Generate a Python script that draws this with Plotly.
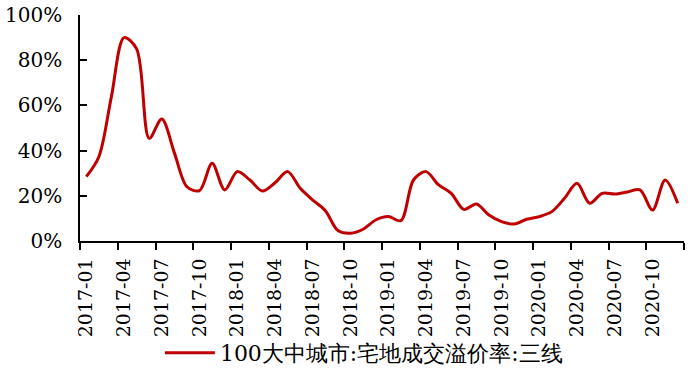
import plotly.graph_objects as go

months = [f"{y}-{m:02d}" for y in range(2017, 2021) for m in range(1, 13)]
premium_rate = [0.285, 0.373, 0.64, 0.90, 0.85, 0.454, 0.54, 0.39, 0.24, 0.223,
                0.344, 0.226, 0.307, 0.27, 0.221, 0.258, 0.307, 0.233, 0.181, 0.134,
                0.046, 0.034, 0.052, 0.093, 0.108, 0.09, 0.27, 0.307, 0.248, 0.211,
                0.14, 0.164, 0.115, 0.086, 0.075, 0.096, 0.108, 0.13, 0.189, 0.255,
                0.167, 0.211, 0.208, 0.217, 0.226, 0.137, 0.27, 0.167]
series_name = "100大中城市:宅地成交溢价率:三线"

idx = list(range(len(months)))
tick_idx = idx[::3]
tick_text = months[::3]

fig = go.Figure()
fig.add_trace(go.Scatter(
    x=idx, y=premium_rate, mode="lines", name=series_name,
    line=dict(color="#C00000", width=3, shape="spline", smoothing=0.9),
    showlegend=True,
))

font_main = "DejaVu Serif"

fig.update_layout(
    width=696, height=373,
    margin=dict(l=80, r=12, t=15, b=132, autoexpand=False),
    paper_bgcolor="white", plot_bgcolor="white",
    font=dict(family=font_main, size=20, color="black"),
    showlegend=True,
    legend=dict(orientation="h", x=0.47, xanchor="center", y=-0.495, yanchor="middle",
                bgcolor="rgba(0,0,0,0)",
                font=dict(size=22, family=font_main),
                itemwidth=50),
    xaxis=dict(
        range=[-0.5, 47.5], showline=True, linecolor="black", linewidth=1.5,
        showgrid=False, zeroline=False, automargin=False,
        tickmode="array", tickvals=tick_idx, ticktext=tick_text,
        ticks="", tickangle=-90, ticklabelstandoff=8,
        tickfont=dict(size=19),
        minor=dict(tick0=-0.5, dtick=3, ticks="outside", ticklen=7,
                   tickcolor="black", tickwidth=1.5, showgrid=False),
    ),
    yaxis=dict(
        range=[0, 1], dtick=0.2, tickformat=".0%", showline=True,
        linecolor="black", linewidth=1.5, showgrid=False, zeroline=False,
        automargin=False,
        ticks="inside", ticklen=7, tickcolor="black", tickwidth=1.5,
        ticklabelstandoff=12,
    ),
)

fig.write_html("out.html", config={"displayModeBar": False},
               post_script="document.body.style.margin='0';")
